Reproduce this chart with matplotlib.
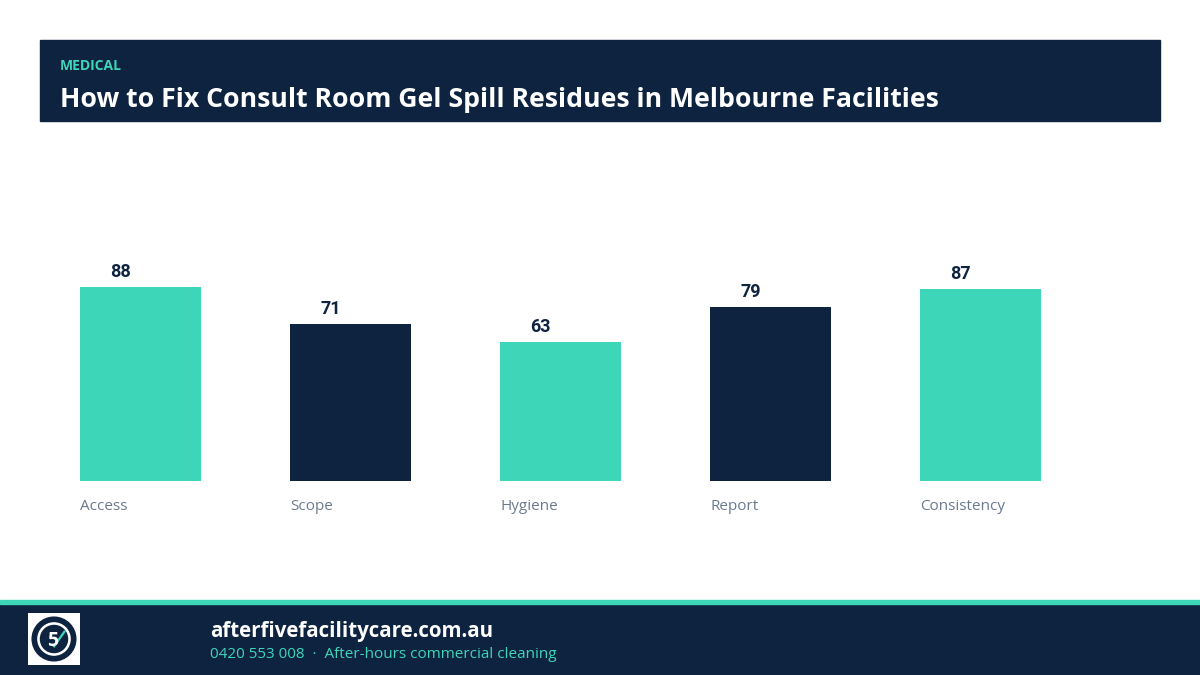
import matplotlib
matplotlib.use("Agg")
import matplotlib.pyplot as plt
from matplotlib.patches import Rectangle, Circle

categories = ["Access", "Scope", "Hygiene", "Report", "Consistency"]
values = [88, 71, 63, 79, 87]
kicker = "MEDICAL"
title = "How to Fix Consult Room Gel Spill Residues in Melbourne Facilities"
site = "afterfivefacilitycare.com.au"
contact = "0420 553 008  ·  After-hours commercial cleaning"

NAVY = "#0e2340"
TEAL = "#3dd6b9"
GREY = "#6b7a8f"
W, H = 1200, 675

fig = plt.figure(figsize=(12, 6.75), dpi=100)
fig.patch.set_facecolor("white")

def fx(px):
    return px / W

def fy(py):
    return 1 - py / H

# header band
fig.patches.append(Rectangle((fx(40), fy(121)), fx(1120), (121 - 40) / H,
                             transform=fig.transFigure, color=NAVY, zorder=0))
fig.text(fx(60), fy(66), kicker, color=TEAL, fontsize=10, fontweight="bold",
         family="Open Sans", va="center", ha="left")
fig.text(fx(60), fy(100), title, color="white", fontsize=19.2, fontweight="bold",
         family="Open Sans", va="center", ha="left")

# chart axes
step = 210
bar_w = 121 / step
left_px = 140.5 - 0.5 * step
ax_w = 5 * step
base_px = 481
top_px = base_px - 100 * (194 / 88)
ax = fig.add_axes([fx(left_px), fy(base_px), ax_w / W, (base_px - top_px) / H])
ax.set_xlim(-0.5, 4.5)
ax.set_ylim(0, 100)
ax.axis("off")
colors = [TEAL if i % 2 == 0 else NAVY for i in range(len(values))]
xs = list(range(len(values)))
ax.bar(xs, values, width=bar_w, color=colors)
for x, v, c in zip(xs, values, categories):
    ax.annotate(str(v), (x, v), xytext=(-20, 6), textcoords="offset pixels",
                ha="center", va="bottom", fontsize=13, fontweight="bold",
                color=NAVY, family="Roboto")
    ax.annotate(c, (x - bar_w / 2, 0), xytext=(0, -25), textcoords="offset pixels",
                ha="left", va="center", fontsize=11, color=GREY, family="Open Sans")

# footer
fig.patches.append(Rectangle((0, 0), 1, (675 - 604) / H, transform=fig.transFigure,
                             color=NAVY, zorder=0))
fig.patches.append(Rectangle((0, fy(604)), 1, 4 / H, transform=fig.transFigure,
                             color=TEAL, zorder=0))
lax = fig.add_axes([fx(28), fy(665), fx(52), 52 / H])
lax.set_zorder(5)
lax.set_xlim(0, 1)
lax.set_ylim(0, 1)
lax.axis("off")
lax.add_patch(Rectangle((0, 0), 1, 1, color="white"))
lax.add_patch(Circle((0.5, 0.5), 0.42, color=NAVY))
lax.add_patch(Circle((0.5, 0.5), 0.31, color="white"))
lax.add_patch(Circle((0.5, 0.5), 0.26, color=NAVY))
lax.text(0.48, 0.47, "5", color="white", fontsize=14, fontweight="bold",
         ha="center", va="center", family="Open Sans")
lax.plot([0.50, 0.70], [0.36, 0.64], color=TEAL, lw=1.6)

fig.text(fx(210), fy(632), site, color="white", fontsize=14.8, fontweight="bold",
         family="Open Sans", va="center", ha="left")
fig.text(fx(210), fy(654), contact, color=TEAL, fontsize=11,
         family="Open Sans", va="center", ha="left")

fig.savefig("out.png", dpi=100, facecolor="white")
